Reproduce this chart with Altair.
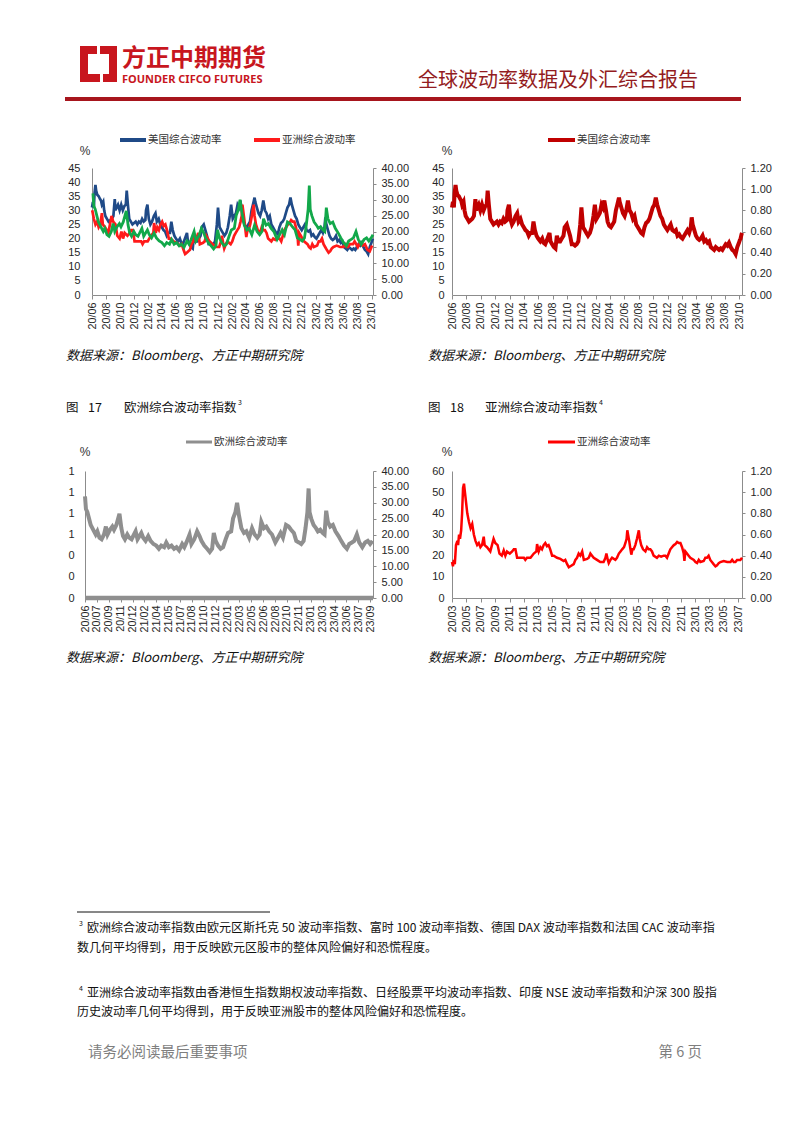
import altair as alt
import pandas as pd

W, H = 786, 1117
OX, OY = 8, 8
CJK = "Noto Sans CJK SC"
LF = "Liberation Sans"
AX = "#8C8C8C"
LAB = "#262626"

# ---------------- data ----------------
us_dates = ["2020-06-01","2020-06-05","2020-06-09","2020-06-12","2020-06-16","2020-06-19","2020-06-24","2020-06-30","2020-07-06","2020-07-10","2020-07-14","2020-07-20","2020-07-24","2020-07-29","2020-08-05","2020-08-12","2020-08-19","2020-08-26","2020-09-02","2020-09-08","2020-09-11","2020-09-16","2020-09-22","2020-09-29","2020-10-06","2020-10-13","2020-10-20","2020-10-26","2020-10-30","2020-11-04","2020-11-10","2020-11-17","2020-11-24","2020-12-01","2020-12-08","2020-12-15","2020-12-22","2020-12-29","2021-01-05","2021-01-12","2021-01-19","2021-01-22","2021-01-28","2021-02-03","2021-02-10","2021-02-17","2021-02-25","2021-03-04","2021-03-10","2021-03-18","2021-03-25","2021-04-01","2021-04-08","2021-04-15","2021-04-22","2021-04-29","2021-05-06","2021-05-12","2021-05-18","2021-05-25","2021-06-01","2021-06-10","2021-06-18","2021-06-24","2021-07-01","2021-07-08","2021-07-19","2021-07-23","2021-07-30","2021-08-06","2021-08-13","2021-08-19","2021-08-26","2021-09-02","2021-09-09","2021-09-16","2021-09-21","2021-09-30","2021-10-07","2021-10-14","2021-10-21","2021-10-28","2021-11-04","2021-11-11","2021-11-18","2021-11-26","2021-12-01","2021-12-08","2021-12-15","2021-12-22","2021-12-29","2022-01-06","2022-01-13","2022-01-21","2022-01-27","2022-02-03","2022-02-10","2022-02-17","2022-02-24","2022-03-02","2022-03-08","2022-03-15","2022-03-22","2022-03-29","2022-04-05","2022-04-12","2022-04-19","2022-04-26","2022-05-02","2022-05-09","2022-05-12","2022-05-19","2022-05-26","2022-06-02","2022-06-09","2022-06-16","2022-06-23","2022-06-30","2022-07-07","2022-07-14","2022-07-21","2022-07-28","2022-08-04","2022-08-11","2022-08-18","2022-08-25","2022-09-01","2022-09-08","2022-09-15","2022-09-22","2022-09-29","2022-10-06","2022-10-12","2022-10-18","2022-10-25","2022-11-01","2022-11-08","2022-11-15","2022-11-22","2022-11-30","2022-12-07","2022-12-14","2022-12-21","2022-12-29","2023-01-05","2023-01-12","2023-01-19","2023-01-26","2023-02-02","2023-02-09","2023-02-16","2023-02-23","2023-03-02","2023-03-09","2023-03-13","2023-03-17","2023-03-24","2023-03-31","2023-04-07","2023-04-14","2023-04-21","2023-04-28","2023-05-05","2023-05-12","2023-05-19","2023-05-26","2023-06-02","2023-06-09","2023-06-16","2023-06-23","2023-06-30","2023-07-07","2023-07-14","2023-07-21","2023-07-28","2023-08-04","2023-08-11","2023-08-18","2023-08-25","2023-09-01","2023-09-08","2023-09-15","2023-09-22","2023-09-29","2023-10-03","2023-10-06","2023-10-10","2023-10-12"]
us_vals = [31,33,31,36,39,37,35.5,35,34,33.5,32,33,30,28,27,26,26.5,27,28,34,30,31,32,30,32,30,31.5,32,37,32,27,26,25,25.5,26,25,26,25.5,27,26,26.5,30,32,27,25,26,28,29,26,27,25,24,23,22.5,21,22,22,26,23,21,20,19,20,18.5,18,19.5,22,19,18,17,16.5,21,19,19,20,21,24,25,23,21,18,18,17.5,18,19,25,31,24,23,22,21,22,24,28,32,27,28,29,32,31,33.5,30,26,24.5,24,25,26,30,32,34.5,33,31,29,28,30,33.5,30,29,27,28,25,24,23,22,21.5,24,25.5,26,27,29,31,32,34.5,32,30,28,27,25,24,23,24,25,23,22.5,23,21,21.5,20.5,20,21,22,23,22,24,27.5,25,23,21,20,19.5,20,21,19,19.5,18.5,19,17,16.5,16,17,16.5,16,16.5,16,17,18,17.5,18.5,17,16,15.5,14.5,17,18.5,19.5,20,21.5,22]

asia_dates = ["2020-03-01","2020-03-05","2020-03-09","2020-03-13","2020-03-18","2020-03-24","2020-03-27","2020-03-31","2020-04-04","2020-04-09","2020-04-13","2020-04-17","2020-04-21","2020-04-25","2020-04-30","2020-05-05","2020-05-12","2020-05-19","2020-05-26","2020-06-02","2020-06-09","2020-06-16","2020-06-23","2020-06-30","2020-07-07","2020-07-14","2020-07-18","2020-07-28","2020-08-11","2020-08-18","2020-08-25","2020-09-01","2020-09-11","2020-09-19","2020-09-29","2020-10-07","2020-10-14","2020-10-21","2020-11-02","2020-11-12","2020-11-19","2020-11-26","2020-12-03","2020-12-17","2021-01-01","2021-01-07","2021-01-14","2021-01-29","2021-02-12","2021-02-23","2021-02-26","2021-03-05","2021-03-12","2021-03-19","2021-03-26","2021-04-02","2021-04-09","2021-04-16","2021-04-23","2021-05-01","2021-05-08","2021-05-22","2021-06-05","2021-06-19","2021-06-26","2021-07-04","2021-07-11","2021-07-18","2021-08-01","2021-08-08","2021-08-15","2021-08-22","2021-08-29","2021-09-06","2021-09-13","2021-09-27","2021-10-04","2021-10-11","2021-10-18","2021-10-25","2021-11-08","2021-11-22","2021-12-06","2021-12-14","2021-12-18","2021-12-24","2021-12-28","2022-01-04","2022-01-11","2022-01-25","2022-02-01","2022-02-09","2022-02-16","2022-02-23","2022-03-03","2022-03-09","2022-03-14","2022-03-17","2022-03-25","2022-03-29","2022-04-03","2022-04-08","2022-04-13","2022-04-20","2022-04-27","2022-05-05","2022-05-09","2022-05-15","2022-05-23","2022-06-02","2022-06-09","2022-06-16","2022-06-23","2022-06-30","2022-07-07","2022-07-21","2022-07-29","2022-08-08","2022-08-19","2022-08-26","2022-09-02","2022-09-09","2022-09-16","2022-09-23","2022-10-01","2022-10-08","2022-10-15","2022-10-22","2022-10-29","2022-11-05","2022-11-12","2022-11-15","2022-11-19","2022-11-26","2022-12-03","2022-12-10","2022-12-25","2023-01-01","2023-01-08","2023-01-15","2023-01-22","2023-02-05","2023-02-12","2023-02-19","2023-02-26","2023-03-05","2023-03-12","2023-03-19","2023-03-27","2023-04-03","2023-04-10","2023-04-17","2023-05-01","2023-05-16","2023-05-30","2023-06-06","2023-06-13","2023-06-20","2023-06-27","2023-07-11","2023-07-18","2023-08-01","2023-08-10","2023-08-22","2023-09-01","2023-09-12","2023-09-22","2023-10-02","2023-10-08"]
asia_vals = [17,15,18,16,25,27,25,30,28,32,40,52,54,50,45,40,36,33,35,30,27,25,26,24,25,29,25,24,22,25,28,26,25,21,20,22.5,20,22,21,22,23,23,19,19,19,18,19,19,21,22,25.5,22,24,23,25,26,24.5,25,23,20,20,19,18.5,17.5,18,16,14.5,15,16,18,19,21,20,22,18,18.5,19,21,20,19,18,17,17,19,21,18,16.5,18,19,18,19,21,22,23,24,26,28,32,27,24,20.5,23,23,25,28,32,28,25,23,22,24,23,23,22,20,19,20,19.5,20,20,19,21,23,24,25,25.5,26.5,26,26,24,21,17.5,22,21,20,19,18,17,16.5,18,17,17.5,19,19,20,18,17,16,15,15.5,16.5,17,17.5,17,17,18,17,17,18,18,19,17,18.5,17.5,18,16,15.5,17.5,17]

eu_dates = ["2020-06-05","2020-06-09","2020-06-15","2020-06-22","2020-06-29","2020-07-06","2020-07-13","2020-07-20","2020-07-27","2020-08-05","2020-08-14","2020-08-24","2020-09-01","2020-09-08","2020-09-18","2020-09-28","2020-10-05","2020-10-15","2020-10-28","2020-11-05","2020-11-12","2020-11-20","2020-11-30","2020-12-08","2020-12-18","2021-01-04","2021-01-12","2021-01-28","2021-02-05","2021-02-15","2021-02-26","2021-03-08","2021-03-20","2021-04-01","2021-04-12","2021-04-22","2021-05-04","2021-05-13","2021-05-24","2021-06-04","2021-06-15","2021-06-25","2021-07-06","2021-07-19","2021-07-28","2021-08-06","2021-08-19","2021-08-27","2021-09-08","2021-09-20","2021-09-30","2021-10-08","2021-10-20","2021-11-01","2021-11-12","2021-11-22","2021-11-29","2021-12-07","2021-12-17","2021-12-28","2022-01-07","2022-01-18","2022-01-28","2022-02-10","2022-02-18","2022-02-28","2022-03-07","2022-03-15","2022-03-25","2022-04-05","2022-04-15","2022-04-27","2022-05-09","2022-05-20","2022-05-31","2022-06-10","2022-06-17","2022-06-28","2022-07-08","2022-07-20","2022-08-01","2022-08-15","2022-08-26","2022-09-06","2022-09-16","2022-09-29","2022-10-10","2022-10-20","2022-11-01","2022-11-11","2022-11-22","2022-12-02","2022-12-12","2022-12-20","2022-12-28","2023-01-02","2023-01-06","2023-01-13","2023-01-23","2023-02-02","2023-02-10","2023-02-20","2023-03-02","2023-03-10","2023-03-17","2023-03-24","2023-04-03","2023-04-14","2023-04-25","2023-05-08","2023-05-19","2023-05-31","2023-06-12","2023-06-22","2023-07-03","2023-07-13","2023-07-24","2023-08-03","2023-08-16","2023-08-28","2023-09-08","2023-09-18","2023-09-28","2023-10-06"]
eu_vals = [32,28,27,25,23,22,21,20,21,19,18.5,20,22.5,20,21.5,22.5,21.5,23,26.5,22,19.5,18.5,20,19,18.5,21,18.5,20.5,19,18,19.5,18,17,16.5,15.5,16.5,16,17.5,16,16.5,15.5,16,15,17,16,17.5,20,17,18.5,21,19.5,18,16.5,15.5,14.5,15.5,20.5,18,16.5,15.5,16,18.5,20.5,21,25,27,30,26,22,20.5,21,19,22,20,19,20,24,22,22.5,21,20,17.5,19,20.5,19,23,22.5,21.5,20.5,18,17.5,17,18,22,27,34.5,27,25,23,22,21,21.5,20.5,20,27.5,24,22.5,23,21,19.5,18,16.5,15.5,17,17.5,18,20,17.5,16,17.5,18,17,18,19]
eu_left_dates = ["2020-06-05", "2023-09-30"]
eu_left_vals = [0, 0]

ticks_a = ["2020-06-01","2020-08-01","2020-10-01","2020-12-01","2021-02-01","2021-04-01","2021-06-01","2021-08-01","2021-10-01","2021-12-01","2022-02-01","2022-04-01","2022-06-01","2022-08-01","2022-10-01","2022-12-01","2023-02-01","2023-04-01","2023-06-01","2023-08-01","2023-10-01"]
ticks_eu = ["2020-06-05","2020-07-25","2020-09-13","2020-11-02","2020-12-22","2021-02-10","2021-04-01","2021-05-21","2021-07-10","2021-08-29","2021-10-18","2021-12-07","2022-01-26","2022-03-17","2022-05-06","2022-06-25","2022-08-14","2022-10-03","2022-11-22","2023-01-11","2023-03-02","2023-04-21","2023-06-10","2023-07-30","2023-09-18"]
ticks_as = ["2020-03-01","2020-05-01","2020-07-01","2020-09-01","2020-11-01","2021-01-01","2021-03-01","2021-05-01","2021-07-01","2021-09-01","2021-11-01","2022-01-01","2022-03-01","2022-05-01","2022-07-01","2022-09-01","2022-11-01","2023-01-01","2023-03-01","2023-05-01","2023-07-01"]

US_NAME = "美国综合波动率"
AS_NAME = "亚洲综合波动率"
EU_NAME = "欧洲综合波动率"

# ---------------- helpers ----------------
def dt(s):
    y, m, d = (int(v) for v in s.split("-"))
    return alt.DateTime(year=y, month=m, date=d)

def frame(dates, vals, start, end, name=None):
    df = pd.DataFrame({"date": pd.to_datetime(dates), "v": vals})
    df = df[(df["date"] >= pd.Timestamp(start)) & (df["date"] <= pd.Timestamp(end))].copy()
    if name is not None:
        df["s"] = name
    return df

def xs(start, end, x0, x1):
    return alt.Scale(domain=[dt(start), dt(end)], range=[x0 - OX, x1 - OX])

def ys(lo, hi, ybot, ytop):
    return alt.Scale(domain=[lo, hi], range=[ybot - OY, ytop - OY], nice=False, zero=False)

def xaxis(ticks, ybot):
    return alt.Axis(values=[dt(t) for t in ticks], format="%y/%m", labelAngle=-90,
                    orient="bottom", offset=(ybot - OY) - H, tickSize=4, labelPadding=3,
                    labelFlush=False, labelOverlap=False, domainColor=AX, tickColor=AX,
                    labelColor=LAB, labelFontSize=10.8, labelFont=LF, grid=False, title=None)

def yleft(values, fmt, xleft, pad):
    return alt.Axis(values=list(values), format=fmt, orient="left", offset=-(xleft - OX),
                    ticks=False, labelPadding=pad, domainColor=AX, labelColor=LAB,
                    labelFontSize=11, labelFont=LF, grid=False, title=None, labelFlush=False)

def yright(values, fmt, xright):
    return alt.Axis(values=list(values), format=fmt, orient="right", offset=(xright - OX) - W,
                    tickSize=3, tickColor=AX, labelPadding=5, domainColor=AX, labelColor=LAB,
                    labelFontSize=11, labelFont=LF, grid=False, title=None, labelFlush=False)

one = pd.DataFrame({"k": [0]})

def text(s, x, y, size, color="#111111", weight="normal", style="normal", align="left", font=CJK):
    return alt.Chart(pd.DataFrame({"t": [s]})).mark_text(
        align=align, baseline="middle", fontSize=size, font=font, color=color,
        fontWeight=weight, fontStyle=style
    ).encode(x=alt.value(x - OX), y=alt.value(y - OY), text="t:N")

def rect(x0, y0, x1, y1, color):
    return alt.Chart(one).mark_rect(color=color).encode(
        x=alt.value(x0 - OX), x2=alt.value(x1 - OX), y=alt.value(y0 - OY), y2=alt.value(y1 - OY))

def hline(x0, x1, y, color, width):
    return alt.Chart(one).mark_rule(color=color, strokeWidth=width).encode(
        x=alt.value(x0 - OX), x2=alt.value(x1 - OX), y=alt.value(y - OY))

BLUE, RED, GREEN = "#1F4A87", "#FF1A1A", "#12A84A"
DRED, GRAY, RED4 = "#C00000", "#8F8F8F", "#FF0000"

# ---------------- chart 1 ----------------
C1 = ("2020-06-01", "2023-10-06")
xs1 = xs(C1[0], C1[1], 92, 373)
c1_df = pd.concat([frame(us_dates, us_vals, *C1, US_NAME), frame(asia_dates, asia_vals, *C1, AS_NAME)])
c1_left = alt.Chart(c1_df).mark_line(strokeWidth=2.7).encode(
    x=alt.X("date:T", scale=xs1, axis=xaxis(ticks_a, 295)),
    y=alt.Y("v:Q", scale=ys(0, 45, 295, 168), axis=yleft(range(0, 46, 5), "d", 92, 12)),
    color=alt.Color("s:N", scale=alt.Scale(domain=[US_NAME, AS_NAME], range=[BLUE, RED]), legend=None),
)
c1_right = alt.Chart(frame(eu_dates, eu_vals, *C1)).mark_line(color=GREEN, strokeWidth=2.8).encode(
    x=alt.X("date:T", scale=xs1, axis=None),
    y=alt.Y("v:Q", scale=ys(0, 40, 295, 168), axis=yright(range(0, 41, 5), ".2f", 373)),
)

# ---------------- chart 2 ----------------
C2 = ("2020-06-01", "2023-10-12")
c2_left = alt.Chart(frame(us_dates, us_vals, *C2)).mark_line(color=DRED, strokeWidth=4).encode(
    x=alt.X("date:T", scale=xs(C2[0], C2[1], 452, 742), axis=xaxis(ticks_a, 295)),
    y=alt.Y("v:Q", scale=ys(0, 45, 295, 168), axis=yleft(range(0, 46, 5), "d", 452, 8)),
)
c2_right = alt.Chart(one).mark_rule(opacity=0).encode(
    y=alt.YDatum(0, scale=ys(0, 1.2, 295, 168), axis=yright([0, 0.2, 0.4, 0.6, 0.8, 1.0, 1.2], ".2f", 742)),
)

# ---------------- chart 3 ----------------
C3 = ("2020-06-05", "2023-09-30")
xs3 = xs(C3[0], C3[1], 85, 373)
c3_left = alt.Chart(frame(eu_left_dates, eu_left_vals, *C3)).mark_line(color=GRAY, strokeWidth=4.5).encode(
    x=alt.X("date:T", scale=xs3, axis=None),
    y=alt.Y("v:Q", scale=ys(0, 1.2, 598, 471), axis=yleft([0, 0.2, 0.4, 0.6, 0.8, 1.0, 1.2], ".0f", 85, 11)),
)
c3_right = alt.Chart(frame(eu_dates, eu_vals, *C3)).mark_line(color=GRAY, strokeWidth=4).encode(
    x=alt.X("date:T", scale=xs3, axis=xaxis(ticks_eu, 598)),
    y=alt.Y("v:Q", scale=ys(0, 40, 598, 471), axis=yright(range(0, 41, 5), ".2f", 373)),
)

# ---------------- chart 4 ----------------
C4 = ("2020-03-01", "2023-07-18")
c4_left = alt.Chart(frame(asia_dates, asia_vals, *C4)).mark_line(color=RED4, strokeWidth=2.5).encode(
    x=alt.X("date:T", scale=xs(C4[0], C4[1], 452, 742), axis=xaxis(ticks_as, 598)),
    y=alt.Y("v:Q", scale=ys(0, 60, 598, 471), axis=yleft(range(0, 61, 10), "d", 452, 8)),
)
c4_right = alt.Chart(one).mark_rule(opacity=0).encode(
    y=alt.YDatum(0, scale=ys(0, 1.2, 598, 471), axis=yright([0, 0.2, 0.4, 0.6, 0.8, 1.0, 1.2], ".2f", 742)),
)

# ---------------- page decoration ----------------
HRED = "#C8161E"
deco = [
    # logo
    rect(80, 46, 117, 82, HRED),
    rect(88, 54, 109, 74, "white"),
    rect(97, 46, 100, 54, "white"),
    rect(100, 74, 103, 82, "white"),
    text("方正中期期货", 122, 59, 24, HRED, weight="bold"),
    text("FOUNDER CIFCO FUTURES", 122, 80, 11, HRED, weight="bold", font="Noto Sans"),
    text("全球波动率数据及外汇综合报告", 418, 81, 20, "#931C21"),
    rect(65, 97, 741, 101, "#A7151D"),
    # chart legends and % marks
    hline(120, 146, 140, BLUE, 4), text(US_NAME, 148, 140, 10.5, "#333333"),
    hline(254, 280, 140, RED, 4), text(AS_NAME, 282, 140, 10.5, "#333333"),
    text("%", 85, 151, 12, "#333333", align="center", font=LF),
    hline(548, 575, 140, DRED, 4), text(US_NAME, 577, 140, 10.5, "#333333"),
    text("%", 447, 151, 12, "#333333", align="center", font=LF),
    hline(186, 212, 442, GRAY, 3), text(EU_NAME, 214, 442, 10.5, "#333333"),
    text("%", 85, 452, 12, "#333333", align="center", font=LF),
    hline(548, 575, 442, RED4, 3), text(AS_NAME, 577, 442, 10.5, "#333333"),
    text("%", 447, 452, 12, "#333333", align="center", font=LF),
    # sources and figure titles
    text("数据来源：Bloomberg、方正中期研究院", 66, 356, 13, style="italic"),
    text("数据来源：Bloomberg、方正中期研究院", 428, 356, 13, style="italic"),
    text("图", 66, 408, 12.5), text("17", 88, 408, 12.5), text("欧洲综合波动率指数", 124, 408, 12.5),
    text("3", 238, 403, 7),
    text("图", 428, 408, 12.5), text("18", 450, 408, 12.5), text("亚洲综合波动率指数", 485, 408, 12.5),
    text("4", 599, 403, 7),
    text("数据来源：Bloomberg、方正中期研究院", 66, 658, 13, style="italic"),
    text("数据来源：Bloomberg、方正中期研究院", 428, 658, 13, style="italic"),
    # footnotes
    hline(77, 270, 912, "#111111", 1),
    text("3", 79, 924, 7),
    text("欧洲综合波动率指数由欧元区斯托克 50 波动率指数、富时 100 波动率指数、德国 DAX 波动率指数和法国 CAC 波动率指", 87, 928, 12),
    text("数几何平均得到，用于反映欧元区股市的整体风险偏好和恐慌程度。", 77, 948, 12),
    text("4", 79, 989, 7),
    text("亚洲综合波动率指数由香港恒生指数期权波动率指数、日经股票平均波动率指数、印度 NSE 波动率指数和沪深 300 股指", 87, 993, 12),
    text("历史波动率几何平均得到，用于反映亚洲股市的整体风险偏好和恐慌程度。", 77, 1012, 12),
    text("请务必阅读最后重要事项", 88, 1053, 14.5, "#7F7F7F"),
    text("第 6 页", 702, 1053, 14.5, "#7F7F7F", align="right"),
]

layers = [c1_left, c1_right, c2_left, c2_right, c3_left, c3_right, c4_left, c4_right] + deco

chart = (
    alt.layer(*layers)
    .resolve_scale(x="independent", y="independent")
    .properties(width=W, height=H, padding=0, background="white")
    .configure_view(stroke=None)
    .configure_axis(grid=False)
)

chart.save("out.html", embed_options={"renderer": "svg", "actions": False})
